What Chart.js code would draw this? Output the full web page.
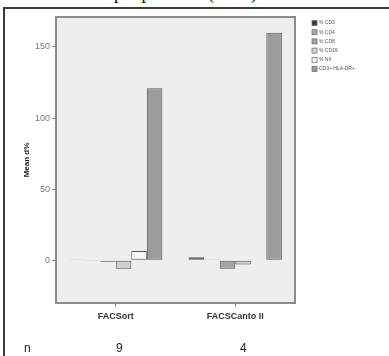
<!DOCTYPE html>
<html>
<head>
<meta charset="utf-8">
<script src="https://cdn.jsdelivr.net/npm/chart.js@4/dist/chart.umd.min.js"></script>
<style>
  html, body { margin: 0; padding: 0; background: #fff; }
  body { width: 389px; height: 356px; position: relative; overflow: hidden; font-family: "Liberation Sans", Arial, sans-serif; }
  #titulo { position: absolute; left: 40px; top: -17px; font-family: "Liberation Serif", serif; font-size: 18px; color: #000; white-space: nowrap; }
  #marco { position: absolute; left: 3px; top: 7px; width: 386px; height: 349px; border-left: 2px solid #3a3a3a; border-top: 2px solid #3a3a3a; background: #fff; }
  #wrap { position: absolute; left: 0; top: 0; width: 389px; height: 356px; }
  .nrow { position: absolute; top: 341px; font-size: 12px; color: #222; }
</style>
</head>
<body>
<div id="titulo">Mean d% per platform (n=13)</div>
<div id="marco"></div>
<div id="wrap"><canvas id="grafico" width="389" height="356"></canvas></div>
<div class="nrow" style="left:24px">n</div>
<div class="nrow" style="left:116px">9</div>
<div class="nrow" style="left:240px">4</div>
<script>
// Datos
const plataformas = ['FACSort', 'FACSCanto II'];
const nMuestras = [9, 4];
const marcadores = ['% CD3', '% CD4', '% CD8', '% CD19', '% NK', 'CD3+ HLA-DR+'];
const cd3 = [0.2, 2.2];
const cd4 = [-0.2, 0.5];
const cd8 = [-1, -6];
const cd19 = [-6, -3];
const nk = [6.5, -0.3];
const hlaDr = [121, 160];
const ticksY = [0, 50, 100, 150];

const colores = ['#3c3c3c', '#a9a9a9', '#a4a4a4', '#cfcfcf', '#f6f6f6', '#9c9c9c'];
const series = [cd3, cd4, cd8, cd19, nk, hlaDr];

// Fondo y marco del área del gráfico
const fondoPlugin = {
    id: 'fondo',
    beforeDraw(chart) {
        const { ctx, chartArea: a } = chart;
        ctx.save();
        ctx.fillStyle = '#eeeeee';
        ctx.fillRect(a.left, a.top, a.right - a.left, a.bottom - a.top);
        ctx.restore();
    },
    afterDraw(chart) {
        const { ctx, chartArea: a } = chart;
        ctx.save();
        ctx.strokeStyle = '#8c8c8c';
        ctx.lineWidth = 2;
        ctx.strokeRect(a.left, a.top, a.right - a.left, a.bottom - a.top);
        ctx.restore();
    }
};

// Leyenda pequeña a la derecha
const leyendaPlugin = {
    id: 'leyenda',
    afterDraw(chart) {
        const { ctx, chartArea: a } = chart;
        ctx.save();
        ctx.font = '5px "Liberation Sans", Arial, sans-serif';
        ctx.textBaseline = 'middle';
        chart.data.datasets.forEach((ds, i) => {
            const x = a.right + 17, y = a.top + 6 + i * 9.2;
            ctx.fillStyle = ds.backgroundColor;
            ctx.fillRect(x, y - 2.5, 5, 5);
            ctx.strokeStyle = '#666';
            ctx.lineWidth = 0.7;
            ctx.strokeRect(x, y - 2.5, 5, 5);
            ctx.fillStyle = '#555';
            ctx.fillText(ds.label, x + 7, y);
        });
        ctx.restore();
    }
};

new Chart(document.getElementById('grafico'), {
    type: 'bar',
    data: {
        labels: plataformas,
        datasets: marcadores.map((m, i) => ({
            label: m,
            data: series[i],
            backgroundColor: colores[i],
            borderColor: '#555555',
            borderWidth: 1,
            borderSkipped: false,
            categoryPercentage: 0.78,
            barPercentage: 1
        }))
    },
    options: {
        responsive: false,
        animation: false,
        layout: { padding: { left: 0, top: 17, right: 94, bottom: 0 } },
        plugins: { legend: { display: false }, tooltip: { enabled: false } },
        scales: {
            x: {
                afterFit: s => { s.height = 53; },
                grid: { display: true, offset: false, drawOnChartArea: false, drawTicks: true, tickLength: 4, tickColor: '#8c8c8c' },
                border: { display: false },
                ticks: { color: '#333', padding: 4, font: { size: 9, weight: 'bold', family: '"Liberation Sans", Arial, sans-serif' } }
            },
            y: {
                min: -30,
                max: 171,
                afterFit: s => { s.width = 56; },
                afterBuildTicks: s => { s.ticks = ticksY.map(v => ({ value: v })); },
                grid: { display: true, drawOnChartArea: false, drawTicks: true, tickLength: 4, tickColor: '#8c8c8c' },
                border: { display: false },
                ticks: { color: '#777', padding: 2, font: { size: 9, family: '"Liberation Sans", Arial, sans-serif' } },
                title: { display: true, text: 'Mean d%', color: '#222', padding: { top: 22, bottom: 0 }, font: { size: 8, weight: 'bold', family: '"Liberation Sans", Arial, sans-serif' } }
            }
        }
    },
    plugins: [fondoPlugin, leyendaPlugin]
});
</script>
</body>
</html>
